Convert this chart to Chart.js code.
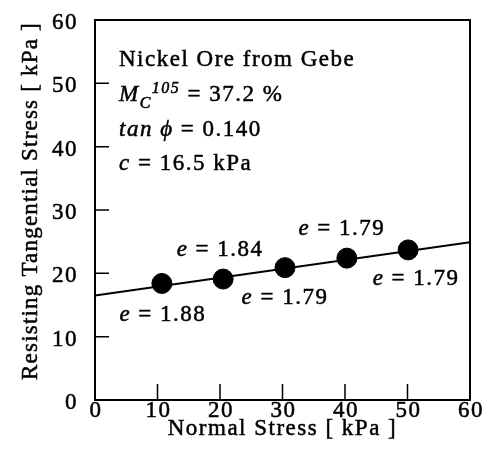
<!DOCTYPE html>
<html lang="en">
<head>
    <meta charset="utf-8">
    <title>Nickel Ore from Gebe</title>
    <style>
        html, body { margin: 0; padding: 0; background: #fff; }
        .wrap { width: 488px; height: 459px; }
    </style>
</head>
<body>
    <div class="wrap">
        <canvas id="myChart" width="488" height="459"></canvas>
    </div>

    <script src="https://cdn.jsdelivr.net/npm/chart.js@4.4.0/dist/chart.umd.min.js"></script>
    <script>
        // data
        const normalStress = [10.7, 20.5, 30.4, 40.3, 50.1];
        const tangentialStress = [18.4, 19.1, 20.9, 22.4, 23.7];
        const voidRatio = ['1.88', '1.84', '1.79', '1.79', '1.79'];
        const fitX = [0, 60];
        const fitY = [16.5, 24.9];
        const tickValues = [0, 10, 20, 30, 40, 50, 60];

        const serif = '"Liberation Serif", "Times New Roman", serif';

        // scanned figure: slightly heavy strokes
        function ink(ctx, t, x, y) {
            ctx.fillText(t, x, y);
            ctx.strokeText(t, x, y);
        }

        // draw a run of text pieces, some italic / shifted
        function drawRun(ctx, x, y, parts, align) {
            let total = 0;
            parts.forEach(p => {
                ctx.font = (p.style || '') + ' ' + p.size + 'px ' + serif;
                p.w = ctx.measureText(p.t).width;
                total += p.w;
            });
            let cx = align === 'center' ? x - total / 2 : x;
            parts.forEach(p => {
                ctx.font = (p.style || '') + ' ' + p.size + 'px ' + serif;
                ink(ctx, p.t, cx, y + (p.dy || 0));
                cx += p.w;
            });
        }

        const framePlugin = {
            id: 'frame',
            afterDatasetsDraw(chart) {
                const ctx = chart.ctx;
                const a = chart.chartArea;
                const xs = chart.scales.x, ys = chart.scales.y;
                ctx.save();
                ctx.strokeStyle = '#000';
                ctx.lineWidth = 2;
                ctx.strokeRect(a.left, a.top, a.right - a.left, a.bottom - a.top);
                // inward ticks
                ctx.lineWidth = 1.5;
                ctx.beginPath();
                [10, 20, 30, 40, 50].forEach(v => {
                    const px = xs.getPixelForValue(v);
                    ctx.moveTo(px, a.bottom);
                    ctx.lineTo(px, a.bottom - 16);
                    const py = ys.getPixelForValue(v);
                    ctx.moveTo(a.left, py);
                    ctx.lineTo(a.left + 14, py);
                });
                ctx.stroke();

                ctx.fillStyle = '#000';
                ctx.lineWidth = 0.5;
                ctx.letterSpacing = '1.5px';
                ctx.textBaseline = 'alphabetic';

                // tick labels
                ctx.font = '23px ' + serif;
                ctx.textAlign = 'center';
                tickValues.forEach(v => ink(ctx, String(v), xs.getPixelForValue(v) + 1, 417));
                ctx.textAlign = 'right';
                tickValues.forEach(v => ink(ctx, String(v), 78, ys.getPixelForValue(v) + 9));

                // info block
                ctx.textAlign = 'left';
                const it = 'italic';
                const tx = a.left + 24;
                drawRun(ctx, tx, 66, [{ t: 'Nickel Ore from Gebe', size: 23 }]);
                drawRun(ctx, tx, 101, [
                    { t: 'M', size: 23, style: it },
                    { t: 'C', size: 16, style: it, dy: 7 },
                    { t: '105', size: 16, style: it, dy: -8 },
                    { t: ' = 37.2 %', size: 23 }
                ]);
                drawRun(ctx, tx, 136, [
                    { t: 'tan \u03d5', size: 23, style: it },
                    { t: ' = 0.140', size: 23 }
                ]);
                drawRun(ctx, tx, 170, [
                    { t: 'c', size: 23, style: it },
                    { t: ' = 16.5 kPa', size: 23 }
                ]);

                // void ratio labels next to each point
                const offs = [[1, 38], [-3, -23], [0, 36], [-5, -23], [8, 35]];
                normalStress.forEach((v, i) => {
                    const px = xs.getPixelForValue(v) + offs[i][0];
                    const py = ys.getPixelForValue(tangentialStress[i]) + offs[i][1];
                    drawRun(ctx, px, py, [
                        { t: 'e', size: 23, style: it },
                        { t: ' = ' + voidRatio[i], size: 23 }
                    ], 'center');
                });

                // axis titles
                ctx.font = '23px ' + serif;
                ctx.textAlign = 'center';
                ink(ctx, 'Normal Stress [ kPa ]', (a.left + a.right) / 2, 435);
                ctx.letterSpacing = '1.2px';
                ctx.translate(37, 201);
                ctx.rotate(-Math.PI / 2);
                ink(ctx, 'Resisting Tangential Stress [ kPa ]', 0, 0);
                ctx.restore();
            }
        };

        const ctx = document.getElementById('myChart').getContext('2d');
        const chart = new Chart(ctx, {
            type: 'scatter',
            data: {
                datasets: [{
                    label: 'fit',
                    type: 'line',
                    data: fitX.map((x, i) => ({ x: x, y: fitY[i] })),
                    borderColor: '#000',
                    borderWidth: 2,
                    pointRadius: 0,
                    fill: false
                }, {
                    label: 'tests',
                    data: normalStress.map((x, i) => ({ x: x, y: tangentialStress[i] })),
                    backgroundColor: '#000',
                    borderColor: '#000',
                    pointRadius: 10
                }]
            },
            options: {
                responsive: false,
                animation: false,
                layout: { padding: { left: 0, right: 18, top: 20, bottom: 0 } },
                plugins: { legend: { display: false }, tooltip: { enabled: false } },
                scales: {
                    x: {
                        type: 'linear', min: 0, max: 60,
                        afterBuildTicks: s => { s.ticks = tickValues.map(v => ({ value: v })); },
                        afterFit: s => { s.height = 59; s.paddingLeft = 0; s.paddingRight = 0; },
                        grid: { display: false },
                        border: { display: false },
                        ticks: { display: false }
                    },
                    y: {
                        type: 'linear', min: 0, max: 60,
                        afterBuildTicks: s => { s.ticks = tickValues.map(v => ({ value: v })); },
                        afterFit: s => { s.width = 95; s.paddingTop = 0; s.paddingBottom = 0; },
                        grid: { display: false },
                        border: { display: false },
                        ticks: { display: false }
                    }
                }
            },
            plugins: [framePlugin]
        });
    </script>
</body>
</html>
